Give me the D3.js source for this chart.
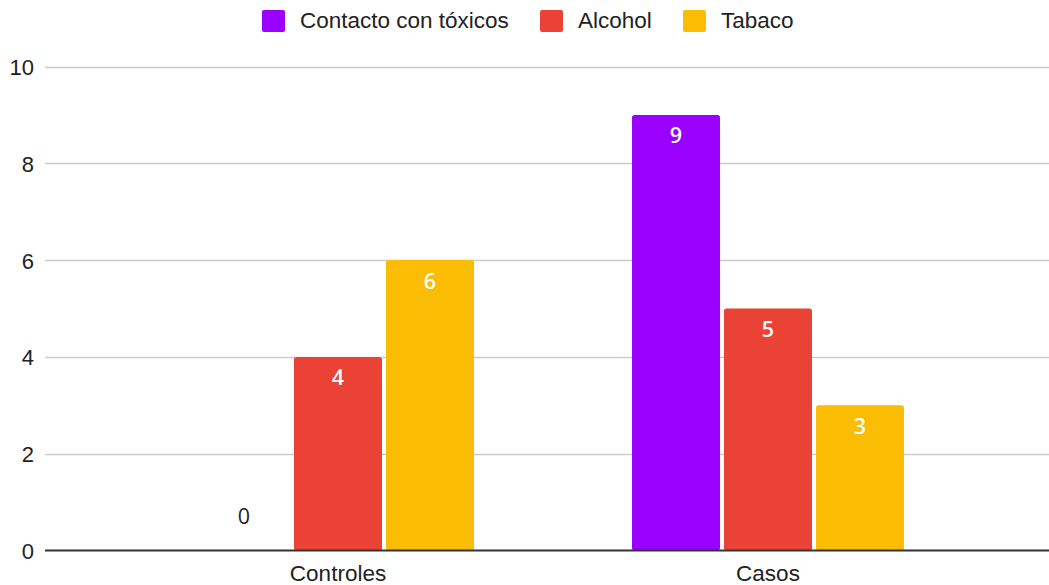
<!DOCTYPE html>
<html><head><meta charset="utf-8">
<script src="https://cdn.jsdelivr.net/npm/d3@7"></script>
<style>
html,body{margin:0;padding:0;background:#fff;}
svg{display:block;font-family:"Liberation Sans", Arial, sans-serif;}
</style></head>
<body>
<svg id="chart" width="1049" height="585"></svg>
<script>
const categories = ["Controles", "Casos"];
const seriesNames = ["Contacto con tóxicos", "Alcohol", "Tabaco"];
const contacto = [0, 9];
const alcohol = [4, 5];
const tabaco = [6, 3];
const yTicks = [0, 2, 4, 6, 8, 10];
const colors = ["#9900ff", "#ea4335", "#fbbc04"];

const seriesValues = [contacto, alcohol, tabaco];
const svg = d3.select("#chart");
const FONT = '"Liberation Sans", Arial, sans-serif';

const y = d3.scaleLinear().domain([0, 10]).range([550.5, 66.5]);
const x0 = d3.scaleBand().domain(categories).range([123, 983]).padding(0);
const x1 = d3.scaleBand().domain(seriesNames).range([79, 351]).paddingInner(4/92).paddingOuter(0);

// gridlines
const grid = svg.append("g");
grid.selectAll("line").data(yTicks.filter(t => t !== 0)).join("line")
  .attr("x1", 45).attr("x2", 1049)
  .attr("y1", d => Math.round(y(d)) + 0.5).attr("y2", d => Math.round(y(d)) + 0.5)
  .attr("stroke", "#cccccc").attr("stroke-width", 1.5);

// y axis labels
const yAxis = d3.axisLeft(y).tickValues(yTicks).tickSize(0).tickPadding(0);
const ya = svg.append("g").attr("transform", "translate(34,0)").call(yAxis);
ya.select(".domain").remove();
ya.selectAll("text").attr("font-size", 22).attr("fill", "#222").attr("font-family", FONT).attr("dy", "0.36em");

// bars
const data = [];
categories.forEach((c, i) => seriesNames.forEach((s, j) => data.push({cat: c, s: s, v: seriesValues[j][i], color: colors[j]})));

const g = svg.append("g");
g.selectAll("rect").data(data.filter(d => d.v > 0)).join("rect")
  .attr("x", d => x0(d.cat) + x1(d.s))
  .attr("y", d => y(d.v))
  .attr("width", x1.bandwidth())
  .attr("height", d => y(0) - y(d.v))
  .attr("rx", 2.5)
  .attr("fill", d => d.color);

// value labels
g.selectAll("text.val").data(data).join("text").attr("class", "val")
  .attr("x", d => x0(d.cat) + x1(d.s) + x1.bandwidth() / 2 - (d.v > 0 ? 0 : 2))
  .attr("y", d => y(d.v) + 28.5)
  .attr("text-anchor", "middle")
  .attr("font-family", '"Open Sans", sans-serif')
  .attr("font-size", 21.5)
  .attr("font-weight", d => d.v > 0 ? 600 : 400)
  .attr("fill", d => d.v > 0 ? "#ffffff" : "#222")
  .attr("transform", d => d.v > 0 ? null : "translate(0,-55)")
  .text(d => d.v);

// baseline
svg.append("line").attr("x1", 45).attr("x2", 1049)
  .attr("y1", y(0)).attr("y2", y(0))
  .attr("stroke", "#333").attr("stroke-width", 2);

// x axis labels
const xAxis = d3.axisBottom(x0).tickSize(0).tickPadding(0);
const xa = svg.append("g").attr("transform", "translate(0,580.5)").call(xAxis);
xa.select(".domain").remove();
xa.selectAll("text").attr("font-size", 22.5).attr("fill", "#222").attr("font-family", FONT).attr("dy", 0).attr("y", 0);

// legend
const legendX = [262, 540, 683];
const lg = svg.append("g");
seriesNames.forEach((s, i) => {
  lg.append("rect").attr("x", legendX[i]).attr("y", 10).attr("width", 23).attr("height", 22).attr("rx", 2).attr("fill", colors[i]);
  lg.append("text").attr("x", legendX[i] + 38).attr("y", 27.5)
    .attr("font-size", 22.5).attr("font-family", FONT).attr("fill", "#222").text(s);
});
</script>
</body></html>
